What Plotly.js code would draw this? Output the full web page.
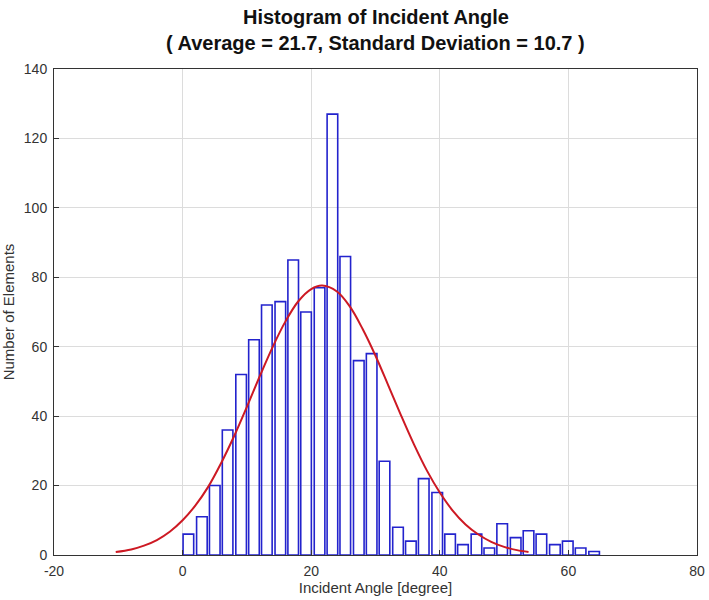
<!DOCTYPE html>
<html>
<head>
<meta charset="utf-8">
<script src="https://cdn.plot.ly/plotly-3.0.1.min.js"></script>
<style>html,body{margin:0;padding:0;background:#fff;}#chart{width:709px;height:600px;}</style>
</head>
<body>
<div id="chart"></div>
<script>
// Bin centers (degree)
const binCenters = [0.9, 3.0, 5.0, 7.0, 9.1, 11.1, 13.1, 15.2, 17.2, 19.2, 21.3, 23.3, 25.3, 27.4, 29.4, 31.4,
                    33.5, 35.5, 37.5, 39.6, 41.6, 43.6, 45.7, 47.7, 49.7, 51.8, 53.8, 55.8, 57.9, 59.9, 61.9, 64.0];
// Counts per bin
const counts = [6, 11, 20, 36, 52, 62, 72, 73, 85, 70, 77, 127, 86, 56, 58, 27,
                8, 4, 22, 18, 6, 3, 6, 2, 9, 5, 7, 6, 3, 4, 2, 1];
// Fitted normal curve (mean 21.7, sd 10.7)
const curveX = [-10.4, -8, -6, -4, -2, 0, 2, 4, 6, 8, 10, 12, 14, 16, 18, 20, 21.7, 24, 26, 28, 30, 32, 34, 36, 38, 40, 42, 44, 46, 48, 50, 52, 53.8];
const curveY = [0.86, 1.6, 2.7, 4.3, 6.7, 10.0, 14.3, 19.7, 26.5, 34.2, 42.7, 51.5, 59.9, 67.3, 73.1, 76.6, 77.6, 75.9, 71.6, 65.1, 57.4, 48.8, 40.1, 31.8, 24.3, 18.0, 12.8, 8.8, 5.9, 3.8, 2.35, 1.4, 0.86];

const xTickVals = [-20, 0, 20, 40, 60, 80];
const xTickText = ["-20", "0", "20", "40", "60", "80"];
const yTickVals = [0, 20, 40, 60, 80, 100, 120, 140];

const title1 = "Histogram of Incident Angle";
const title2 = "( Average = 21.7, Standard Deviation = 10.7 )";

const FONT = "Liberation Sans, Arial, Helvetica, sans-serif";

const traces = [
  {
    type: "bar",
    x: binCenters,
    y: counts,
    width: 1.65,
    marker: {color: "rgba(255,255,255,0)", line: {color: "rgb(35,35,205)", width: 1.6}},
    hoverinfo: "x+y"
  },
  {
    type: "scatter",
    mode: "lines",
    x: curveX,
    y: curveY,
    line: {color: "rgb(205,25,35)", width: 2, shape: "spline"},
    hoverinfo: "skip"
  }
];

const axisCommon = {
  showline: true,
  mirror: true,
  linecolor: "#333",
  linewidth: 1,
  showgrid: true,
  gridcolor: "#dcdcdc",
  gridwidth: 1,
  zeroline: false,
  ticks: "inside",
  ticklen: 5,
  tickcolor: "#333",
  tickfont: {family: FONT, size: 14, color: "#333"}
};

const layout = {
  width: 709,
  height: 600,
  paper_bgcolor: "#fff",
  plot_bgcolor: "#fff",
  showlegend: false,
  margin: {l: 54, r: 12, t: 69, b: 45},
  xaxis: Object.assign({}, axisCommon, {
    range: [-20, 80],
    tickvals: xTickVals,
    ticktext: xTickText,
    ticklabelstandoff: 3,
    title: {text: "Incident Angle [degree]", font: {family: FONT, size: 15, color: "#333"}, standoff: 0}
  }),
  yaxis: Object.assign({}, axisCommon, {
    range: [0, 140],
    tickvals: yTickVals,
    ticklabelstandoff: 3,
    title: {text: "Number of Elements", font: {family: FONT, size: 15, color: "#333"}, standoff: 7}
  }),
  annotations: [
    {text: "<b>" + title1 + "</b>", xref: "paper", yref: "paper", x: 0.5, y: 1.108, xanchor: "center", yanchor: "middle",
     showarrow: false, font: {family: FONT, size: 20, color: "#111"}},
    {text: "<b>" + title2 + "</b>", xref: "paper", yref: "paper", x: 0.5, y: 1.053, xanchor: "center", yanchor: "middle",
     showarrow: false, font: {family: FONT, size: 20, color: "#111"}}
  ],
  bargap: 0
};

Plotly.newPlot("chart", traces, layout, {displayModeBar: false, staticPlot: true});
</script>
</body>
</html>
